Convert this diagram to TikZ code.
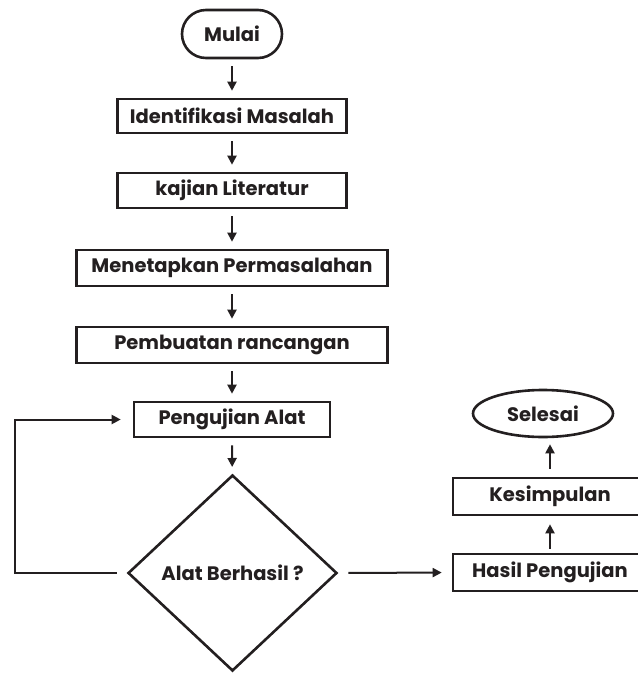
\documentclass[tikz,border=0pt]{standalone}
\usepackage{fontspec}
\setmainfont{Poppins}
\usetikzlibrary{shapes.geometric,arrows.meta}
\definecolor{ink}{HTML}{231F20}
\tikzset{
  box/.style={draw=ink, line width=2.6pt, rectangle, inner sep=0pt, text=ink,
    font=\bfseries\fontsize{19.5}{21}\selectfont},
  arr/.style={draw=ink, line width=2pt, -{Triangle[length=9pt,width=9pt]},
    shorten <=7pt, shorten >=7pt},
}
\begin{document}
\begin{tikzpicture}[x=1pt,y=-1pt]
\useasboundingbox (0,0) rectangle (638,673);
\clip (0,0) rectangle (638,673);
\node[box, rounded corners=24pt, minimum width=100pt, minimum height=48pt] (mulai) at (232,34) {Mulai};
\node[box, minimum width=229pt, minimum height=34pt] (ident) at (232,116) {Identifikasi Masalah};
\node[box, minimum width=229pt, minimum height=35pt] (kaj) at (232,190.5) {kajian Literatur};
\node[box, minimum width=311pt, minimum height=36pt] (men) at (232,268) {Menetapkan Permasalahan};
\node[box, minimum width=311pt, minimum height=36pt] (pem) at (232,345) {Pembuatan rancangan};
\node[box, minimum width=196pt, minimum height=35pt] (peng) at (232,419.5) {Pengujian Alat};
\node[box, shape=diamond, minimum width=209pt, minimum height=196pt] (dia) at (232.5,573) {Alat Berhasil ?};
\node[box, minimum width=194pt, minimum height=37pt] (has) at (550,572.5) {Hasil Pengujian};
\node[box, minimum width=194pt, minimum height=37pt] (kes) at (550,496.5) {Kesimpulan};
\node[box, shape=ellipse, minimum width=140pt, minimum height=47pt] (sel) at (543,413.5) {Selesai};
\coordinate (lx) at (15,573);

\draw[arr] (mulai) -- (ident);
\draw[arr] (ident) -- (kaj);
\draw[arr] (kaj) -- (men);
\draw[arr] (men) -- (pem);
\draw[arr] (pem) -- (peng);
\draw[arr] (peng) -- (dia);
\draw[arr, shorten <=10pt, shorten >=12pt] (dia.west) -- (lx) |- (peng.west);
\draw[arr, shorten <=10pt, shorten >=10pt] (dia.east) -- (has.west);
\draw[arr, shorten <=4pt, shorten >=8pt] (has.north) -- (kes.south);
\draw[arr, shorten <=8pt, shorten >=6pt] (kes.north) -- (kes.north |- sel.south);
\end{tikzpicture}
\end{document}
